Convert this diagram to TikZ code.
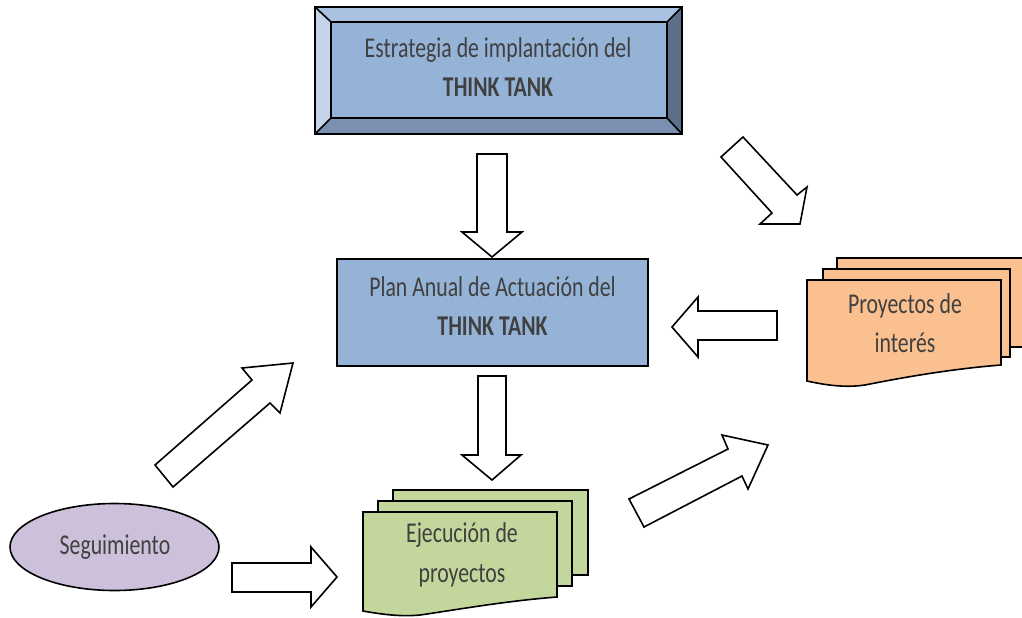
\documentclass[tikz,border=0pt]{standalone}
\usepackage{fontspec}
\usetikzlibrary{shapes.geometric}
\setmainfont{Carlito}[FakeStretch=0.76]
\definecolor{txtc}{HTML}{404040}
\definecolor{blu}{HTML}{95B3D7}
\definecolor{bvtop}{HTML}{AAC2E2}
\definecolor{bvleft}{HTML}{C4D5EA}
\definecolor{bvright}{HTML}{5B6F8A}
\definecolor{bvbot}{HTML}{7B90B0}
\definecolor{grn}{HTML}{C3D69B}
\definecolor{org}{HTML}{FAC090}
\definecolor{pur}{HTML}{CCC0DA}
\begin{document}
\begin{tikzpicture}[x=0.75pt,y=-0.75pt,
  outl/.style={draw=black, line width=1.2pt, line join=miter},
  blk/.style={outl, fill=white},
  txt/.style={font=\fontsize{21.5}{29.5}\selectfont, text=txtc, align=center, inner sep=0pt}]
\useasboundingbox (0,0) rectangle (1022,618);
\clip (0,0) rectangle (1022,618);

% Bevel box
\fill[bvtop] (315,7) -- (682,7) -- (667,22) -- (331,22) -- cycle;
\fill[bvleft] (315,7) -- (331,22) -- (331,118) -- (315,134) -- cycle;
\fill[bvright] (682,7) -- (682,134) -- (667,118) -- (667,22) -- cycle;
\fill[bvbot] (315,134) -- (331,118) -- (667,118) -- (682,134) -- cycle;
\node[outl, fill=blu, minimum width=336*0.75pt, minimum height=96*0.75pt, inner sep=0pt] (estrbox) at (499,70) {};
\draw[outl] (315,7) rectangle (682,134);
\draw[outl] (315,7) -- (estrbox.north west) (682,7) -- (estrbox.north east)
  (315,134) -- (estrbox.south west) (682,134) -- (estrbox.south east);
\node[txt] (estr) at (498,67) {Estrategia de implantación del\\\textbf{THINK TANK}};

% Plan box
\node[outl, fill=blu, minimum width=311*0.75pt, minimum height=107*0.75pt, inner sep=0pt] (planbox) at (492.5,312.5) {};
\node[txt] (plan) at (492.5,306) {Plan Anual de Actuación del\\\textbf{THINK TANK}};

% Proyectos de interes (multi document)
\draw[outl, fill=org] (837,258) -- (1030,258) -- (1030,347) -- (837,347) -- cycle;
\draw[outl, fill=org] (823,269) -- (1010,269) -- (1010,357) -- (823,357) -- cycle;
\draw[outl, fill=org] (807,280) -- (1001,280) -- (1001,365)
  .. controls (950,369) and (900,378) .. (865,385)
  .. controls (845,388) and (825,385) .. (807,381) -- cycle;
\node[txt] (proy) at (905,323) {Proyectos de\\interés};

% Ejecucion de proyectos (multi document)
\draw[outl, fill=grn] (393,490) -- (588,490) -- (588,575) -- (393,575) -- cycle;
\draw[outl, fill=grn] (378,501) -- (572,501) -- (572,586) -- (378,586) -- cycle;
\draw[outl, fill=grn] (363,512) -- (557,512) -- (557,597)
  .. controls (505,601) and (455,610) .. (420,615)
  .. controls (400,617) and (380,614) .. (363,611) -- cycle;
\node[txt] (ejec) at (462,555) {Ejecución de\\proyectos};

% Seguimiento
\node[outl, ellipse, fill=pur, minimum width=209*0.75pt, minimum height=87*0.75pt, inner sep=0pt] (seg) at (114.5,547) {};
\node[txt] (segt) at (115,547) {Seguimiento};

% Block arrows
\draw[blk] (477,154) -- (507,154) -- (507,232) -- (522,232) -- (492,257) -- (462,232) -- (477,232) -- cycle;
\draw[blk] (478,376) -- (506,376) -- (506,455) -- (521,455) -- (492,480) -- (462,455) -- (478,455) -- cycle;
\draw[blk] (743,137) -- (797,195) -- (807,187) -- (800,224) -- (760,224) -- (772,213) -- (721,157) -- cycle;
\draw[blk] (777,311) -- (777,340) -- (698,340) -- (698,357) -- (672,327) -- (698,297) -- (698,311) -- cycle;
\draw[blk] (232,563) -- (311,563) -- (311,547) -- (337,577) -- (311,607) -- (311,592) -- (232,592) -- cycle;
\draw[blk] (155,465) -- (252,380) -- (242,368) -- (293,363) -- (280,413) -- (270,403) -- (173,487) -- cycle;
\draw[blk] (629,499) -- (728,449) -- (722,435) -- (768,445) -- (748,489) -- (742,476) -- (644,527) -- cycle;
\end{tikzpicture}
\end{document}
